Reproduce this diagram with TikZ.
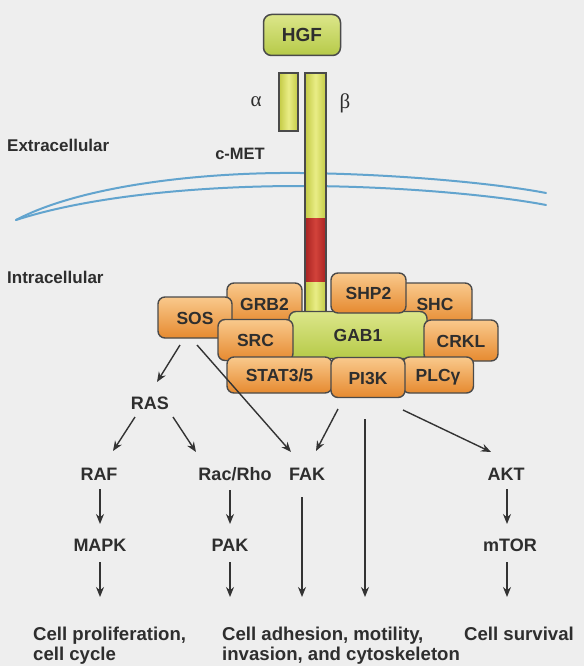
\documentclass[tikz,border=0pt]{standalone}
\usepackage{fontspec}
\setmainfont{Liberation Sans}
\newfontfamily\greekserif{Liberation Serif}
\usetikzlibrary{arrows.meta,calc}
\definecolor{bg}{HTML}{EEEEEE}
\definecolor{txt}{HTML}{2E2E2E}
\definecolor{edge}{HTML}{4A4A4A}
\definecolor{ln}{HTML}{333333}
\definecolor{orT}{HTML}{F9C98C}
\definecolor{orB}{HTML}{E68A30}
\definecolor{grT}{HTML}{DCE68A}
\definecolor{grB}{HTML}{B6CA48}
\definecolor{barE}{HTML}{C3CA44}
\definecolor{barM}{HTML}{E9ED86}
\definecolor{redE}{HTML}{A82222}
\definecolor{redM}{HTML}{D2433A}
\definecolor{memb}{HTML}{62A4CE}
\begin{document}
\begin{tikzpicture}[x=1pt,y=-1pt,
  every node/.style={text=txt, font=\bfseries\fontsize{18}{20}\selectfont},
  prot/.style={draw=edge, line width=1.4pt, rounded corners=7pt, top color=orT, bottom color=orB,
    inner sep=0pt, text height=13pt, text depth=0pt, font=\bfseries\fontsize{17.5}{20}\selectfont},
  gab/.style={prot, top color=grT, bottom color=grB},
  lbl/.style={inner sep=0pt, text height=13pt, text depth=0pt},
  outtxt/.style={inner sep=0pt, align=left, anchor=north west, font=\bfseries\fontsize{18.6}{20}\selectfont},
  arr/.style={draw=ln, line width=1.4pt, -{Stealth[length=10pt,width=8pt]}},
  barfill/.style={left color=barE, right color=barE, middle color=barM},
  redfill/.style={left color=redE, right color=redE, middle color=redM},
  membrane/.style={draw=memb, line width=2pt, line cap=round},
]
\fill[bg] (0,0) rectangle (584,666);
\useasboundingbox (0,0) rectangle (584,666);

% side labels
\node[lbl, anchor=west, font=\bfseries\fontsize{17}{20}\selectfont] (extra) at (7,145) {Extracellular};
\node[lbl, anchor=west, font=\bfseries\fontsize{17}{20}\selectfont] (intra) at (7,277) {Intracellular};

% membrane
\draw[membrane] (16,220) .. controls (80,186) and (200,172) .. (300,173) .. controls (400,174) and (500,184) .. (546,193);
\draw[membrane] (16,220) .. controls (90,196) and (200,186) .. (300,186) .. controls (400,186) and (500,196) .. (546,205);

% HGF
\node[draw=edge, line width=1.5pt, rounded corners=8pt, top color=grT, bottom color=grB,
  minimum width=77pt, minimum height=41pt, inner sep=0pt, text height=13pt, text depth=0pt,
  font=\bfseries\fontsize{19}{20}\selectfont] (HGF) at (302,35) {HGF};

% receptor chains
\node[draw=edge, line width=1.3pt, barfill, minimum width=19pt, minimum height=58pt, inner sep=0pt] (alpha) at (288.5,102) {};
\shade[barfill] (305,73) rectangle (326,218);
\shade[redfill] (305,218) rectangle (326,282);
\shade[barfill] (305,282) rectangle (326,314);
\draw[edge, line width=1.3pt] (305,314) -- (305,73) -- (326,73) -- (326,314);
\coordinate (beta) at (315.5,73);
\node[inner sep=0pt, font=\greekserif\fontsize{21}{22}\selectfont] (alab) at (256,102) {α};
\node[inner sep=0pt, font=\greekserif\fontsize{21}{22}\selectfont] (blab) at (345,103) {β};
\node[lbl, font=\bfseries\fontsize{16.5}{20}\selectfont] (cmet) at (240,153) {c-MET};

% adaptor complex
\node[prot, minimum width=75pt, minimum height=42pt] (GRB2) at (264.5,304) {GRB2};
\node[prot, minimum width=74pt, minimum height=42pt] (SHC) at (435,304) {SHC};
\node[prot, minimum width=74pt, minimum height=41pt] (SOS) at (195,317.5) {SOS};
\node[gab, minimum width=138pt, minimum height=47pt] (GAB1) at (358,335) {GAB1};
\node[prot, minimum width=75pt, minimum height=40pt] (SHP2) at (368.5,293) {SHP2};
\node[prot, minimum width=75pt, minimum height=41pt] (SRC) at (255.5,340) {SRC};
\node[prot, minimum width=74pt, minimum height=41pt] (CRKL) at (461,340.5) {CRKL};
\node[prot, minimum width=105pt, minimum height=36pt] (STAT) at (279.5,375) {STAT3/5};
\node[prot, minimum width=71pt, minimum height=36pt] (PLC) at (438,375) {PLCγ};
\node[prot, minimum width=74pt, minimum height=40pt] (PI3K) at (368,377.5) {PI3K};

% downstream labels
\node[lbl] (RAS) at (150,403) {RAS};
\node[lbl] (RAF) at (99,474) {RAF};
\node[lbl] (Rac) at (235,474) {Rac/Rho};
\node[lbl] (FAK) at (307,474) {FAK};
\node[lbl] (AKT) at (506,474) {AKT};
\node[lbl] (MAPK) at (100,545) {MAPK};
\node[lbl] (PAK) at (230,545) {PAK};
\node[lbl] (mTOR) at (510,545) {mTOR};
\node[outtxt] (prolif) at (33,626.5) {Cell proliferation,\\cell cycle};
\node[outtxt] (adhes) at (222,626.5) {Cell adhesion, motility,\\invasion, and cytoskeleton};
\node[outtxt] (surv) at (464,626.5) {Cell survival};

% connectors
\draw[arr] ($(SOS)+(-15,27.5)$) -- ($(RAS)+(7,-21)$);
\draw[arr] ($(SOS)+(2,27.5)$) -- ($(FAK)+(-16,-22)$);
\draw[arr] ($(RAS)+(-15,14)$) -- ($(RAF)+(14,-23)$);
\draw[arr] ($(RAS)+(23,14)$) -- ($(Rac)+(-39,-22)$);
\draw[arr] ($(PI3K)+(-30,31.5)$) -- ($(FAK)+(9,-23)$);
\draw[arr] ($(PI3K)+(-3,41.5)$) -- ($(PI3K)+(-3,219.5)$);
\draw[arr] ($(PI3K)+(35,32.5)$) -- ($(AKT)+(-15,-22)$);
\draw[arr] ($(RAF)+(1,15)$) -- ($(MAPK)+(0,-21)$);
\draw[arr] ($(MAPK)+(0,17)$) -- ($(MAPK)+(0,52)$);
\draw[arr] ($(PAK)+(0,-55)$) -- ($(PAK)+(0,-21)$);
\draw[arr] ($(PAK)+(0,17)$) -- ($(PAK)+(0,52)$);
\draw[arr] ($(FAK)+(-5,23)$) -- ($(FAK)+(-5,123)$);
\draw[arr] ($(AKT)+(1,15)$) -- ($(AKT)+(1,50)$);
\draw[arr] ($(mTOR)+(-3,17)$) -- ($(mTOR)+(-3,52)$);
\end{tikzpicture}
\end{document}
